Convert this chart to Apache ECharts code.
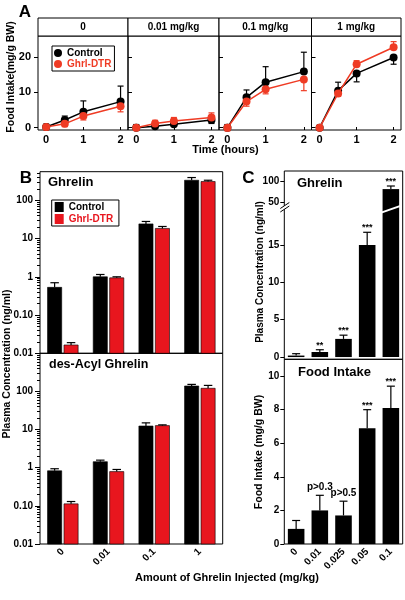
<!DOCTYPE html>
<html><head><meta charset="utf-8">
<script src="https://cdn.jsdelivr.net/npm/echarts@6/dist/echarts.min.js"></script>
<style>html,body{margin:0;padding:0;background:#fff}#c{width:405px;height:600px}</style>
</head><body><div id="c"></div>
<script>
// ---------- Panel A data ----------
const timeHours = [0, 0.5, 1, 2];
const panelADoses = ['0', '0.01 mg/kg', '0.1 mg/kg', '1 mg/kg'];
const intakeControl = [[0.2, 2.2, 4.5, 7.4], [0, 0.4, 1.0, 2.2], [0, 8.6, 12.9, 15.9], [0, 10.5, 15.4, 19.9]];
const intakeControlErr = [[0.8, 1.1, 3.1, 4.4], [0.9, 0.3, 0.4, -1.0], [0.9, 2.1, 4.4, 5.5], [0.6, 2.4, -2.4, -1.9]];
const intakeDtr = [[0.2, 1.1, 3.3, 6.1], [0, 1.2, 1.9, 2.9], [0, 7.4, 10.9, 13.7], [0, 9.7, 18.0, 22.8]];
const intakeDtrErr = [[-0.8, -0.8, -1.1, -1.6], [-0.8, 0.9, 1.0, 1.3], [-0.9, -1.3, -1.3, -3.2], [-0.6, -0.8, 1.0, 1.6]];
const panelAYTicks = [0, 10, 20];
const panelAXTicks = [0, 1, 2];

// ---------- Panel B data ----------
const doseB = ['0', '0.01', '0.1', '1'];
const ghrelinCtrl = [0.53, 1.0, 24.2, 335];
const ghrelinCtrlErr = [0.17, 0.15, 3.8, 59];
const ghrelinDtr = [0.0165, 0.94, 18.4, 310];
const ghrelinDtrErr = [0.0025, 0.06, 2.3, 25];
const desAcylCtrl = [0.83, 1.44, 12.4, 139];
const desAcylCtrlErr = [0.11, 0.14, 2.6, 14];
const desAcylDtr = [0.113, 0.79, 12.7, 121];
const desAcylDtrErr = [0.017, 0.11, 0.6, 23];
const logTicks = [0.01, 0.1, 1, 10, 100];
const logTickLabels = ['0.01', '0.10', '1', '10', '100'];
const logMinorTicks = [];
[0.01, 0.1, 1, 10, 100].forEach(d => { for (let k = 2; k <= 9; k++) logMinorTicks.push(+(d * k).toPrecision(3)); });

// ---------- Panel C data ----------
const doseC = ['0', '0.01', '0.025', '0.05', '0.1'];
const plasmaC = [0.2, 0.68, 2.43, 15.0, 82];
const plasmaCErr = [0.25, 0.3, 0.5, 1.7, 7.5];
const plasmaCSig = ['', '**', '***', '***', '***'];
const intakeC = [0.9, 2.0, 1.7, 6.9, 8.1];
const intakeCErr = [0.5, 0.9, 0.85, 1.1, 1.3];
const intakeCSig = ['', 'p>0.3', 'p>0.5', '***', '***'];
const plasmaLowTicks = [0, 5, 10, 15];
const plasmaHighTicks = [50, 100];
const intakeCTicks = [0, 2, 4, 6, 8, 10];

// ---------- styles / layout ----------
const F = 'Liberation Sans, Arial, Helvetica, sans-serif';
const RED_A = '#ef3b24', RED_B = '#e8161e', BLACK = '#000';
const A_LEFT = [38, 128, 219, 311.5], A_W = [90, 91, 92.5, 89.5], A_TOP = 36, A_H = 94, A_STRIP = 18;
const B_LEFT = 40, B_W = 182.7, B_UP_TOP = 171.7, B_UP_H = 181.6, B_LO_TOP = 353.3, B_LO_H = 190.7;
const C_LEFT = 284.3, C_W = 118.4, C_TOP = 171, C_BREAK = 208, C_MID = 359.3, C_BOT = 544;

const chart = echarts.init(document.getElementById('c'), null, {renderer: 'canvas'});

const lblStyle = (size) => ({fontFamily: F, fontSize: size, fontWeight: 'bold', color: BLACK});
const noLine = {show: false, onZero: false};

const grids = [], xAxes = [], yAxes = [], series = [], graphics = [];

// ---------- Panel A ----------
for (let i = 0; i < 4; i++) {
  grids.push({left: A_LEFT[i], top: A_TOP, width: A_W[i], height: A_H, show: true, borderColor: BLACK, borderWidth: 1, containLabel: false});
  xAxes.push({type: 'value', gridIndex: i, min: -0.22, max: 2.2, position: 'bottom',
    axisLine: noLine, splitLine: {show: false},
    axisTick: {show: true, inside: true, length: 3, customValues: panelAXTicks, lineStyle: {color: BLACK}},
    axisLabel: Object.assign({show: true, margin: 4, customValues: panelAXTicks}, lblStyle(11))});
  yAxes.push({type: 'value', gridIndex: i, min: -0.65, max: 26, position: 'left',
    axisLine: noLine, splitLine: {show: false},
    axisTick: {show: true, inside: i > 0, length: 4, customValues: panelAYTicks, lineStyle: {color: BLACK}},
    axisLabel: Object.assign({show: i === 0, margin: 7, customValues: panelAYTicks}, lblStyle(11))});
  graphics.push({type: 'rect', shape: {x: A_LEFT[i], y: A_TOP - A_STRIP, width: A_W[i], height: A_STRIP},
    style: {fill: '#fff', stroke: BLACK, lineWidth: 1}});
  graphics.push({type: 'text', x: A_LEFT[i] + A_W[i] / 2, y: A_TOP - A_STRIP / 2 + 0.5,
    style: {text: panelADoses[i], align: 'center', verticalAlign: 'middle', fontFamily: F, fontSize: 10, fontWeight: 'bold', fill: BLACK}});
}

function errA(color) {
  return function (params, api) {
    const x = api.value(0), v = api.value(1), e = api.value(2);
    const p = api.coord([x, v]), q = api.coord([x, v + e]);
    return {type: 'group', children: [
      {type: 'line', shape: {x1: p[0], y1: p[1], x2: q[0], y2: q[1]}, style: {stroke: color, lineWidth: 1.2}},
      {type: 'line', shape: {x1: q[0] - 3, y1: q[1], x2: q[0] + 3, y2: q[1]}, style: {stroke: color, lineWidth: 1.2}}
    ]};
  };
}
for (let i = 0; i < 4; i++) {
  series.push({type: 'custom', name: 'errCtrlA' + i, xAxisIndex: i, yAxisIndex: i, z: 3,
    renderItem: errA(BLACK), data: timeHours.map((t, j) => [t, intakeControl[i][j], intakeControlErr[i][j]]), silent: true});
  series.push({type: 'line', name: 'Control', xAxisIndex: i, yAxisIndex: i, z: 4,
    data: timeHours.map((t, j) => [t, intakeControl[i][j]]), symbol: 'circle', symbolSize: 8,
    itemStyle: {color: BLACK}, lineStyle: {color: BLACK, width: 1.5}, animation: false});
  series.push({type: 'custom', name: 'errDtrA' + i, xAxisIndex: i, yAxisIndex: i, z: 5,
    renderItem: errA(RED_A), data: timeHours.map((t, j) => [t, intakeDtr[i][j], intakeDtrErr[i][j]]), silent: true});
  series.push({type: 'line', name: 'Ghrl-DTR', xAxisIndex: i, yAxisIndex: i, z: 6,
    data: timeHours.map((t, j) => [t, intakeDtr[i][j]]), symbol: 'circle', symbolSize: 8,
    itemStyle: {color: RED_A}, lineStyle: {color: RED_A, width: 1.5}, animation: false});
}

// ---------- Panel B ----------
const logFmt = v => { const k = logTicks.findIndex(t => Math.abs(Math.log10(t) - Math.log10(v)) < 1e-6); return k >= 0 ? logTickLabels[k] : ''; };
[[B_UP_TOP, B_UP_H, 560], [B_LO_TOP, B_LO_H, 1000]].forEach((g, k) => {
  const gi = 4 + k;
  grids.push({left: B_LEFT, top: g[0], width: B_W, height: g[1], show: true, borderColor: BLACK, borderWidth: 1});
  xAxes.push({type: 'category', gridIndex: gi, data: doseB, position: 'bottom',
    axisLine: noLine, axisTick: {show: false},
    axisLabel: Object.assign({show: k === 1, rotate: 45, interval: 0, margin: 6}, lblStyle(10))});
});
// C grids
grids.push({left: C_LEFT, top: C_TOP, width: C_W, height: C_BREAK - C_TOP, show: false});          // 6 high
grids.push({left: C_LEFT, top: C_BREAK, width: C_W, height: C_MID - C_BREAK, show: false});         // 7 low
grids.push({left: C_LEFT, top: C_MID, width: C_W, height: C_BOT - C_MID, show: true, borderColor: BLACK, borderWidth: 1}); // 8 intake
grids.push({left: C_LEFT, top: C_TOP, width: C_W, height: C_MID - C_TOP, show: true, borderColor: BLACK, borderWidth: 1}); // 9 frame
for (let gi = 6; gi <= 8; gi++) {
  xAxes.push({type: 'category', gridIndex: gi, data: doseC, position: 'bottom',
    axisLine: noLine, axisTick: {show: false},
    axisLabel: Object.assign({show: gi === 8, rotate: 45, interval: 0, margin: 6}, lblStyle(10))});
}
xAxes.push({type: 'value', gridIndex: 9, show: false});

// y axes B (4,5)
[[560], [1000]].forEach((m, k) => {
  yAxes.push({type: 'log', gridIndex: 4 + k, min: 0.01, max: m[0], position: 'left',
    axisLine: noLine, splitLine: {show: false},
    axisTick: {show: true, length: 5, customValues: logTicks, lineStyle: {color: BLACK}},
    axisLabel: Object.assign({show: true, margin: 7, customValues: logTicks, formatter: logFmt}, lblStyle(10))});
});
// y axes C (6,7,8,9)
yAxes.push({type: 'value', gridIndex: 6, min: 36, max: 126, position: 'left', axisLine: noLine, splitLine: {show: false},
  axisTick: {show: true, length: 4, customValues: plasmaHighTicks, lineStyle: {color: BLACK}},
  axisLabel: Object.assign({show: true, margin: 5, customValues: plasmaHighTicks}, lblStyle(10))});
yAxes.push({type: 'value', gridIndex: 7, min: -0.3, max: 19.95, position: 'left', axisLine: noLine, splitLine: {show: false},
  axisTick: {show: true, length: 4, customValues: plasmaLowTicks, lineStyle: {color: BLACK}},
  axisLabel: Object.assign({show: true, margin: 5, customValues: plasmaLowTicks}, lblStyle(10))});
yAxes.push({type: 'value', gridIndex: 8, min: 0, max: 11, position: 'left', axisLine: noLine, splitLine: {show: false},
  axisTick: {show: true, length: 4, customValues: intakeCTicks, lineStyle: {color: BLACK}},
  axisLabel: Object.assign({show: true, margin: 5, customValues: intakeCTicks}, lblStyle(10))});
yAxes.push({type: 'value', gridIndex: 9, show: false});
// minor log ticks (10, 11)
[[4, 560], [5, 1000]].forEach(g => {
  yAxes.push({type: 'log', gridIndex: g[0], min: 0.01, max: g[1], position: 'left', offset: 0,
    axisLine: noLine, splitLine: {show: false}, axisLabel: {show: false},
    axisTick: {show: true, length: 3, customValues: logMinorTicks.filter(v => v < g[1]), lineStyle: {color: BLACK}}});
});

function barB(sign, color) {
  return function (params, api) {
    const ci = api.value(0), v = api.value(1), e = api.value(2);
    const c0 = api.coord([ci, v]);
    const band = api.coord([ci + 1, v])[0] - c0[0];
    const bw = band * 0.31, gap = band * 0.05;
    const cx = c0[0] + sign * (bw + gap) / 2;
    const cs = params.coordSys;
    const base = cs.y + cs.height;
    const et = api.coord([ci, v + e])[1];
    return {type: 'group', children: [
      {type: 'rect', shape: {x: cx - bw / 2, y: c0[1], width: bw, height: base - c0[1]}, style: {fill: color, stroke: '#000', lineWidth: 0.6}},
      {type: 'line', shape: {x1: cx, y1: c0[1], x2: cx, y2: et}, style: {stroke: '#000', lineWidth: 1.2}},
      {type: 'line', shape: {x1: cx - bw * 0.3, y1: et, x2: cx + bw * 0.3, y2: et}, style: {stroke: '#000', lineWidth: 1.2}}
    ]};
  };
}
[[4, ghrelinCtrl, ghrelinCtrlErr, ghrelinDtr, ghrelinDtrErr], [5, desAcylCtrl, desAcylCtrlErr, desAcylDtr, desAcylDtrErr]].forEach(s => {
  series.push({type: 'custom', name: 'Control ', xAxisIndex: s[0], yAxisIndex: s[0], itemStyle: {color: BLACK},
    renderItem: barB(-1, BLACK), data: doseB.map((d, j) => [j, s[1][j], s[2][j]])});
  series.push({type: 'custom', name: 'Ghrl-DTR ', xAxisIndex: s[0], yAxisIndex: s[0], itemStyle: {color: RED_B},
    renderItem: barB(1, RED_B), data: doseB.map((d, j) => [j, s[3][j], s[4][j]])});
});

// ---------- Panel C series ----------
function errC(sig, fontSize) {
  return function (params, api) {
    const ci = api.value(0), v = api.value(1), e = api.value(2);
    const p = api.coord([ci, v]), q = api.coord([ci, v + e]);
    const cs = params.coordSys;
    if (q[1] < cs.y - 0.5 || p[1] > cs.y + cs.height + 0.5) return null;
    const children = [
      {type: 'line', shape: {x1: p[0], y1: p[1], x2: p[0], y2: q[1]}, style: {stroke: BLACK, lineWidth: 1.2}},
      {type: 'line', shape: {x1: p[0] - 4, y1: q[1], x2: p[0] + 4, y2: q[1]}, style: {stroke: BLACK, lineWidth: 1.2}}
    ];
    const s = sig[params.dataIndex];
    if (s) {
      const isStar = s.indexOf('*') === 0;
      children.push({type: 'text', x: p[0], y: q[1] - (isStar ? 0 : 3),
        style: {text: s, align: 'center', verticalAlign: 'bottom', fontFamily: F, fontWeight: 'bold',
          fontSize: isStar ? 9 : fontSize, fill: BLACK}});
    }
    return {type: 'group', children: children};
  };
}
[6, 7].forEach(gi => {
  series.push({type: 'bar', name: 'plasmaC' + gi, xAxisIndex: gi, yAxisIndex: gi, data: plasmaC,
    barCategoryGap: '30%', itemStyle: {color: BLACK}, clip: true, animation: false, silent: true});
  series.push({type: 'custom', name: 'plasmaCErr' + gi, xAxisIndex: gi, yAxisIndex: gi, z: 3,
    renderItem: errC(plasmaCSig, 9), data: doseC.map((d, j) => [j, plasmaC[j], plasmaCErr[j]])});
});
series.push({type: 'bar', name: 'intakeC', xAxisIndex: 8, yAxisIndex: 8, data: intakeC,
  barCategoryGap: '30%', itemStyle: {color: BLACK}, animation: false, silent: true});
series.push({type: 'custom', name: 'intakeCErr', xAxisIndex: 8, yAxisIndex: 8, z: 3,
  renderItem: errC(intakeCSig, 10), data: doseC.map((d, j) => [j, intakeC[j], intakeCErr[j]])});

// ---------- texts ----------
const TX = (text, x, y, size, align) => ({type: 'text', x: x, y: y, z: 50,
  style: {text: text, fontFamily: F, fontSize: size, fontWeight: 'bold', fill: BLACK, align: align || 'center', verticalAlign: 'middle'}});
const R = (text, x, y, size) => ({type: 'text', x: x, y: y, rotation: Math.PI / 2, z: 50,
  style: {text: text, fontFamily: F, fontSize: size, fontWeight: 'bold', fill: BLACK, align: 'center', verticalAlign: 'middle'}});
graphics.push(TX('A', 25, 12, 17));
graphics.push(TX('B', 26, 178, 17));
graphics.push(TX('C', 248.5, 178, 17));
graphics.push(R('Food Intake(mg/g BW)', 11, 77, 10.5));
graphics.push(TX('Time (hours)', 225.5, 150, 11));
graphics.push(TX('Ghrelin', 48, 182.5, 13, 'left'));
graphics.push(TX('des-Acyl Ghrelin', 49, 365, 12.5, 'left'));
graphics.push(R('Plasma Concentration (ng/ml)', 7.5, 364, 10.5));
graphics.push(TX('Ghrelin', 297, 183, 13, 'left'));
graphics.push(TX('Food Intake', 298, 372, 13, 'left'));
graphics.push(R('Plasma Concentration (ng/ml)', 260, 272, 10));
graphics.push(R('Food Intake (mg/g BW)', 259, 452, 10.5));
graphics.push(TX('Amount of Ghrelin Injected (mg/kg)', 227, 578, 11));

chart.setOption({
  animation: false,
  backgroundColor: '#fff',
  textStyle: {fontFamily: F},
  grid: grids, xAxis: xAxes, yAxis: yAxes, series: series,
  legend: [
    {left: 52, top: 46, orient: 'vertical', padding: [2, 3, 2, 2], itemGap: 1, itemWidth: 8, itemHeight: 8,
      borderColor: BLACK, borderWidth: 1, backgroundColor: '#fff', selectedMode: false,
      textStyle: {fontFamily: F, fontSize: 10, fontWeight: 'bold'},
      data: [{name: 'Control', icon: 'circle', textStyle: {color: BLACK}}, {name: 'Ghrl-DTR', icon: 'circle', textStyle: {color: RED_A}}]},
    {left: 51.7, top: 200, orient: 'vertical', padding: [2, 3, 2, 3], itemGap: 2, itemWidth: 9, itemHeight: 10,
      borderColor: BLACK, borderWidth: 1, backgroundColor: '#fff', selectedMode: false,
      textStyle: {fontFamily: F, fontSize: 10, fontWeight: 'bold'},
      data: [{name: 'Control ', icon: 'rect', textStyle: {color: BLACK}}, {name: 'Ghrl-DTR ', icon: 'rect', textStyle: {color: RED_B}}]}
  ],
  graphic: graphics
});

// axis break marks for panel C (positions from the library's own scales)
const barTop = chart.convertToPixel({gridIndex: 6}, [4, plasmaC[4]]);
const band = chart.convertToPixel({gridIndex: 6}, [1, 50])[0] - chart.convertToPixel({gridIndex: 6}, [0, 50])[0];
const bw = band * 0.7;
const yb = C_BREAK;
graphics.push({type: 'polygon', z: 100, shape: {points: [[barTop[0] - bw / 2 - 1, yb + 3.5], [barTop[0] + bw / 2 + 1, yb - 3], [barTop[0] + bw / 2 + 1, yb - 1], [barTop[0] - bw / 2 - 1, yb + 5.5]]}, style: {fill: '#fff'}});
graphics.push({type: 'polygon', z: 100, shape: {points: [[C_LEFT - 4, yb + 0.5], [C_LEFT + 5, yb - 5.5], [C_LEFT + 5, yb - 2], [C_LEFT - 4, yb + 4]]}, style: {fill: '#fff'}});
graphics.push({type: 'line', z: 101, shape: {x1: C_LEFT - 4, y1: yb + 0.5, x2: C_LEFT + 5, y2: yb - 5.5}, style: {stroke: BLACK, lineWidth: 1}});
graphics.push({type: 'line', z: 101, shape: {x1: C_LEFT - 4, y1: yb + 4, x2: C_LEFT + 5, y2: yb - 2}, style: {stroke: BLACK, lineWidth: 1}});
chart.setOption({graphic: graphics});
</script></body></html>
